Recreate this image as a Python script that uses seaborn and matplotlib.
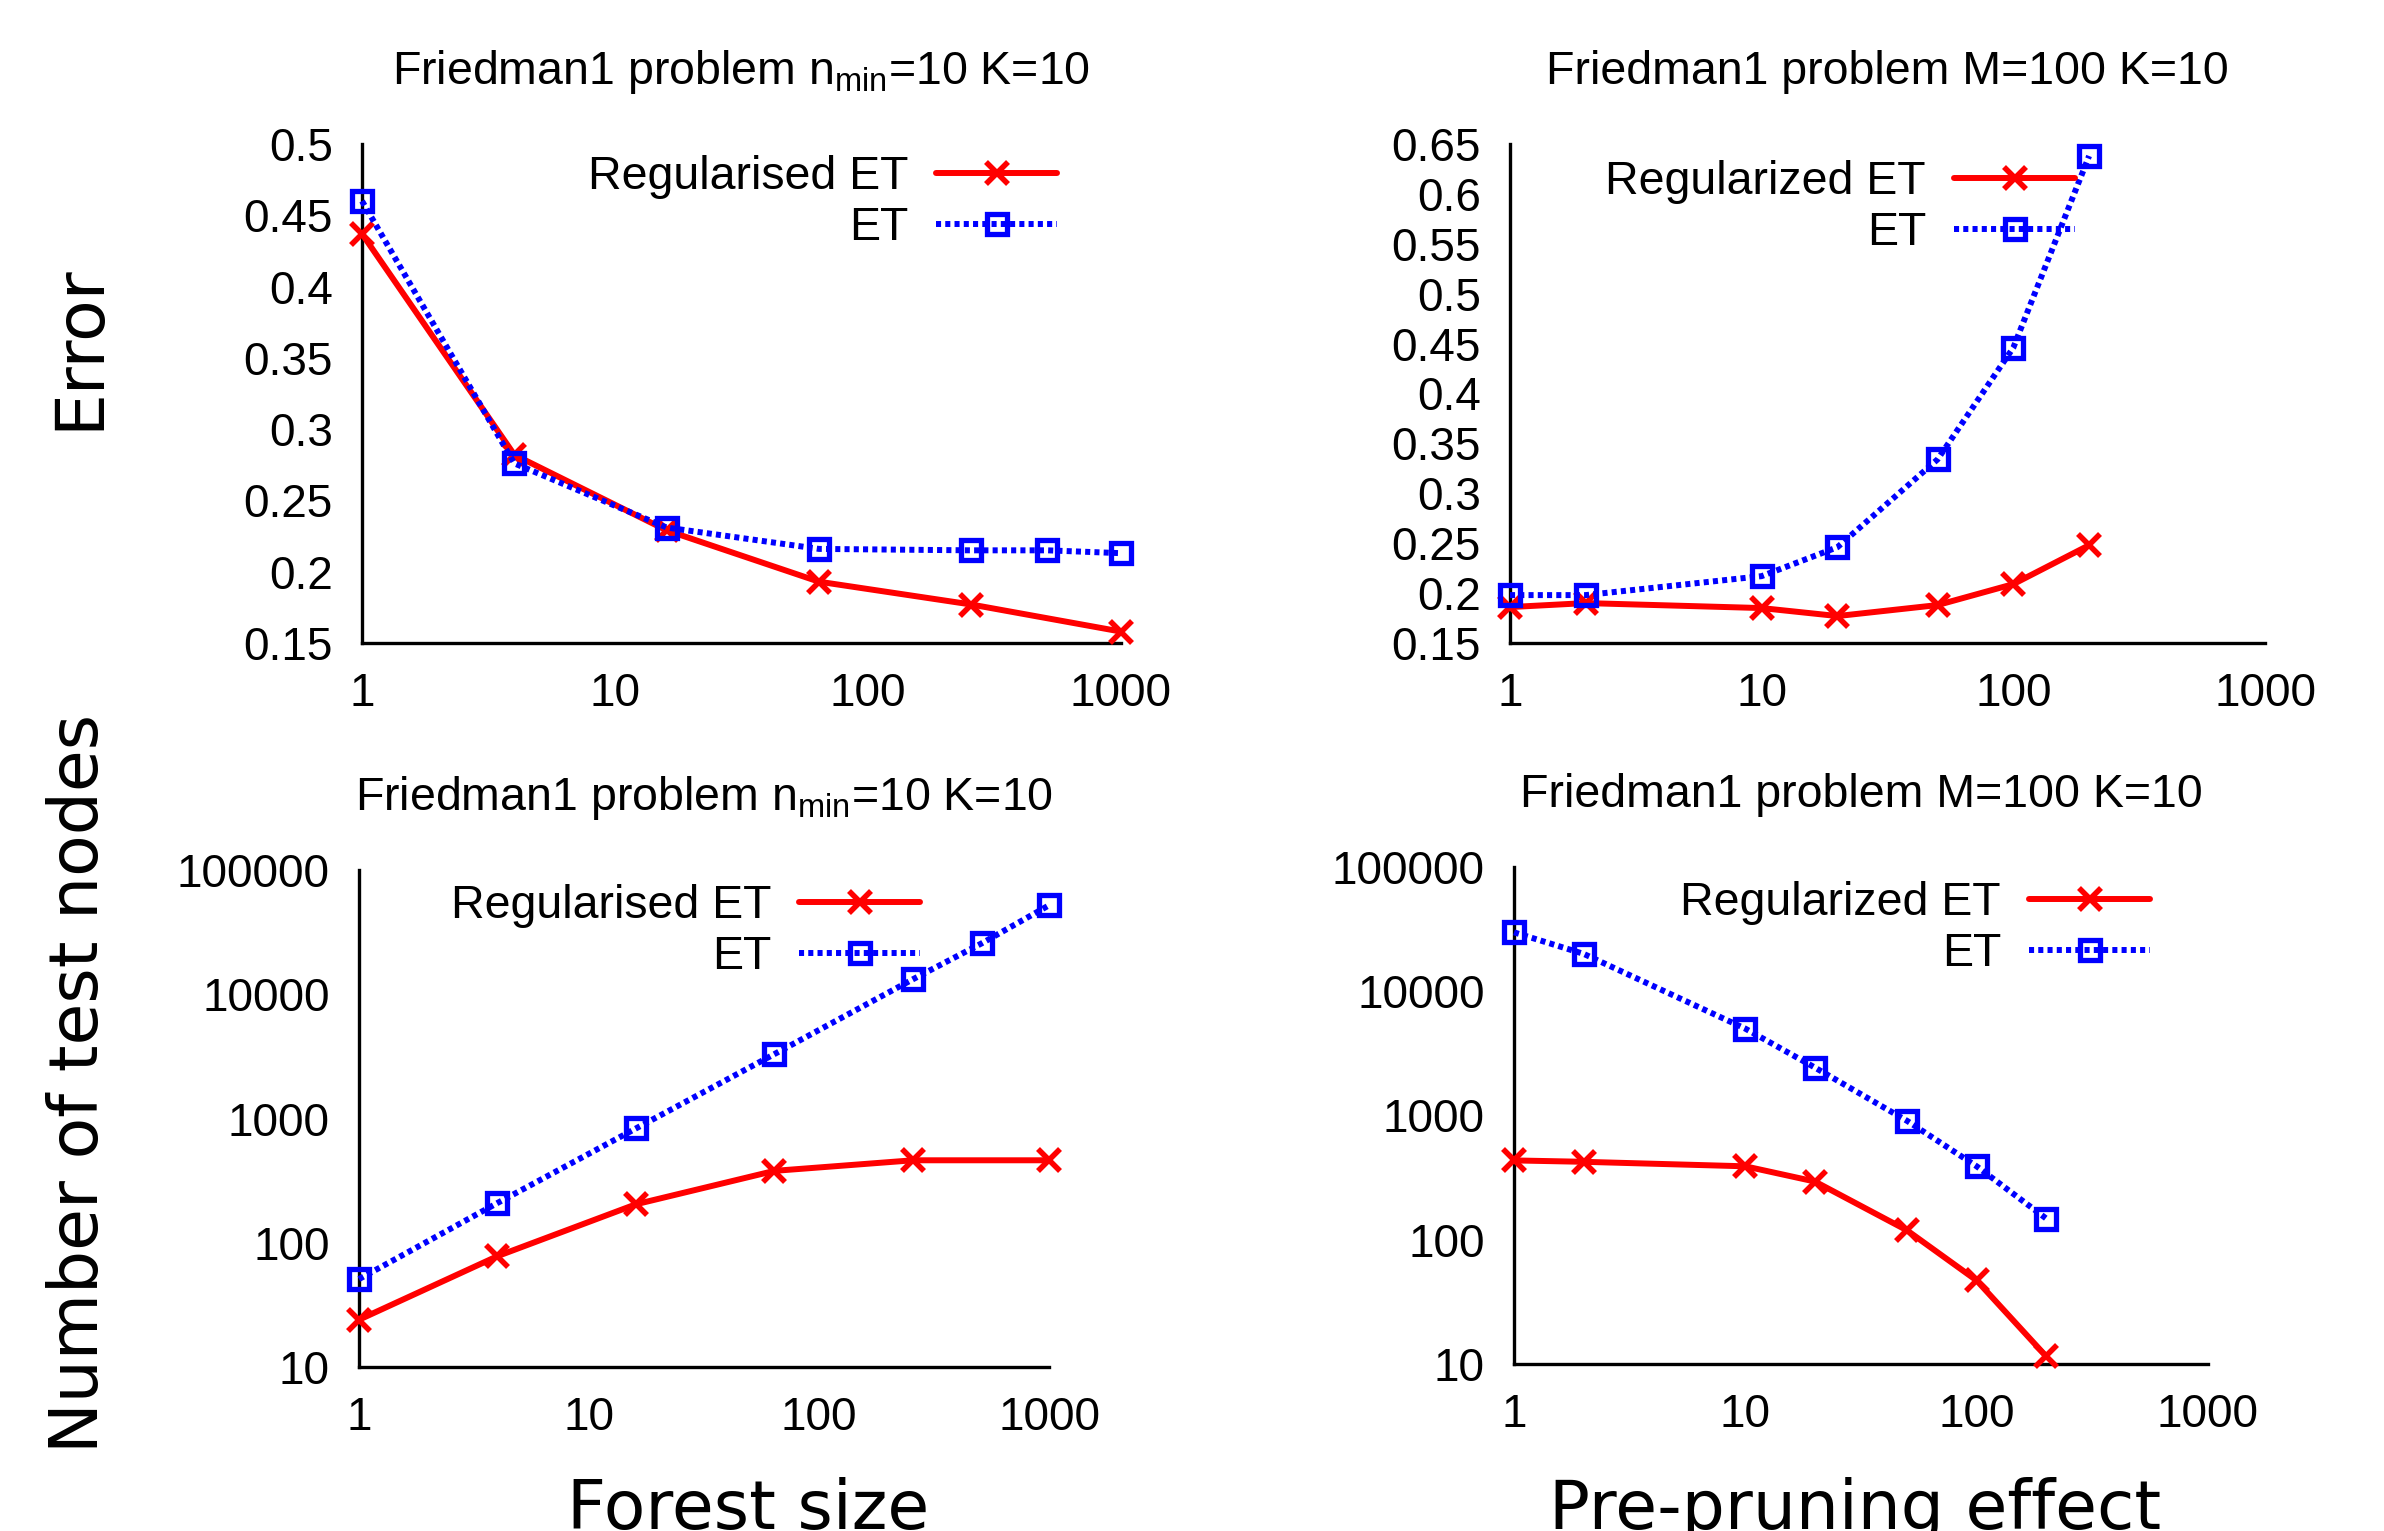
import numpy as np
import pandas as pd
import matplotlib
matplotlib.use("Agg")
import matplotlib.pyplot as plt
import matplotlib.ticker as mticker
import seaborn as sns

# ---------------- data ----------------
# Top-left: error vs forest size
tl_reg_x = [1, 4, 16, 64, 256, 1000]
tl_reg_y = [0.437, 0.282, 0.229, 0.193, 0.177, 0.158]
tl_et_x = [1, 4, 16, 64, 256, 512, 1000]
tl_et_y = [0.460, 0.276, 0.231, 0.216, 0.215, 0.215, 0.213]

# Top-right: error vs pre-pruning (n_min)
tr_x = [1, 2, 10, 20, 50, 100, 200]
tr_reg_y = [0.186, 0.190, 0.185, 0.177, 0.188, 0.209, 0.248]
tr_et_y = [0.198, 0.198, 0.217, 0.246, 0.334, 0.446, 0.638]

# Bottom-left: number of test nodes vs forest size
bl_reg_x = [1, 4, 16, 64, 256, 1000]
bl_reg_y = [24, 78, 204, 379, 461, 461]
bl_et_x = [1, 4, 16, 64, 256, 512, 1000]
bl_et_y = [51, 209, 832, 3300, 13200, 25800, 52000]

# Bottom-right: number of test nodes vs pre-pruning
br_x = [1, 2, 10, 20, 50, 100, 200]
br_reg_y = [435, 424, 390, 294, 119, 47, 11.5]
br_et_y = [29800, 20000, 5000, 2430, 906, 390, 148]

titles = [r"Friedman1 problem n$_{\mathrm{min}}$=10 K=10",
          "Friedman1 problem M=100 K=10",
          r"Friedman1 problem n$_{\mathrm{min}}$=10 K=10",
          "Friedman1 problem M=100 K=10"]
reg_labels = ["Regularised ET", "Regularized ET", "Regularised ET", "Regularized ET"]
et_label = "ET"
x_ticks = [1, 10, 100, 1000]
err_ticks_left = [0.15, 0.2, 0.25, 0.3, 0.35, 0.4, 0.45, 0.5]
err_ticks_right = [0.15, 0.2, 0.25, 0.3, 0.35, 0.4, 0.45, 0.5, 0.55, 0.6, 0.65]
node_ticks = [10, 100, 1000, 10000, 100000]

# ---------------- style ----------------
sns.set_style("white")
plt.rcParams["font.family"] = ["Liberation Sans", "DejaVu Sans"]
plt.rcParams["mathtext.fontset"] = "custom"
plt.rcParams["mathtext.rm"] = "Liberation Sans"
plt.rcParams["mathtext.it"] = "Liberation Sans:italic"
plt.rcParams["mathtext.bf"] = "Liberation Sans:bold"
for k in ["text.color", "axes.labelcolor", "xtick.color", "ytick.color", "axes.edgecolor"]:
    plt.rcParams[k] = "black"

FS_TICK = 33
FS_TEXT = 33.5
RED = "#ff0000"
BLUE = "#0000ff"

fig = plt.figure(figsize=(23.84, 15.31), dpi=100)
W, H = 2384, 1531

def axes_px(l, t, r, b):
    return fig.add_axes([l / W, 1 - b / H, (r - l) / W, (b - t) / H])

ax_tl = axes_px(362, 144, 1121, 643)
ax_tr = axes_px(1510, 144, 2265, 643)
ax_bl = axes_px(359, 870, 1049, 1367)
ax_br = axes_px(1514, 867, 2208, 1364)

panels = [
    (ax_tl, tl_reg_x, tl_reg_y, tl_et_x, tl_et_y, (0.15, 0.5), err_ticks_left, False, (1057, 155)),
    (ax_tr, tr_x, tr_reg_y, tr_x, tr_et_y, (0.15, 0.65), err_ticks_right, False, (2075, 160)),
    (ax_bl, bl_reg_x, bl_reg_y, bl_et_x, bl_et_y, (10, 100000), node_ticks, True, (920, 884)),
    (ax_br, br_x, br_reg_y, br_x, br_et_y, (10, 100000), node_ticks, True, (2150, 881)),
]

fmt = mticker.FuncFormatter(lambda v, p: "%g" % v)

for i, (ax, rx, ry, ex, ey, ylim, yticks, ylog, leg) in enumerate(panels):
    sns.lineplot(x=rx, y=ry, ax=ax, color=RED, lw=4.3, marker="x", ms=15.5, mew=4.0,
                 mec=RED, mfc=RED,
                 label=reg_labels[i], sort=False, errorbar=None, clip_on=False, zorder=3)
    sns.lineplot(x=ex, y=ey, ax=ax, color=BLUE, lw=4.3, linestyle=(0, (0.85, 0.7)),
                 marker="s", ms=15, mew=3.8, mfc="none", mec=BLUE,
                 label=et_label, sort=False, errorbar=None, clip_on=False, zorder=3)
    ax.set_xscale("log")
    ax.set_xlim(1, 1000)
    if ylog:
        ax.set_yscale("log")
    ax.set_ylim(*ylim)
    ax.xaxis.set_major_locator(mticker.FixedLocator(x_ticks))
    ax.xaxis.set_major_formatter(fmt)
    ax.xaxis.set_minor_locator(mticker.LogLocator(base=10, subs=np.arange(2, 10)))
    ax.xaxis.set_minor_formatter(mticker.NullFormatter())
    ax.yaxis.set_major_locator(mticker.FixedLocator(yticks))
    ax.yaxis.set_major_formatter(fmt)
    if ylog:
        ax.yaxis.set_minor_locator(mticker.LogLocator(base=10, subs=np.arange(2, 10)))
        ax.yaxis.set_minor_formatter(mticker.NullFormatter())
    for s in ["top", "right"]:
        ax.spines[s].set_visible(False)
    for s in ["left", "bottom"]:
        ax.spines[s].set_linewidth(2.4)
        ax.spines[s].set_color("black")
    ax.tick_params(which="major", direction="in", length=6.5, width=2.0,
                   labelsize=FS_TICK, pad=21, colors="black")
    ax.tick_params(which="minor", direction="in", length=3.5, width=2.0, colors="black")
    ax.set_xlabel("")
    ax.set_ylabel("")
    ax.set_title(titles[i], fontsize=FS_TEXT, pad=43, color="black")
    ax.set_facecolor("white")
    h, l = ax.get_legend_handles_labels()
    ax.legend(h, l, loc="upper right", bbox_to_anchor=(leg[0] / W, 1 - leg[1] / H),
              bbox_transform=fig.transFigure, frameon=False, markerfirst=False,
              fontsize=FS_TEXT, handlelength=2.6, handletextpad=0.6, labelspacing=0.16,
              borderpad=0, borderaxespad=0, labelcolor="black")

big = dict(family=["DejaVu Sans"], fontsize=49, color="black")
fig.text(79 / W, 1 - 347 / H, "Error", rotation=90, ha="center", va="center", **big)
fig.text(79 / W, 1 - 1083 / H, "Number of test nodes", rotation=90, ha="center", va="center", **big)
fig.text(748 / W, 1 - 1529 / H, "Forest size", ha="center", va="baseline", **big)
fig.text(1855 / W, 1 - 1529 / H, "Pre-pruning effect", ha="center", va="baseline", **big)

fig.savefig("out.png", dpi=100, facecolor="white")
